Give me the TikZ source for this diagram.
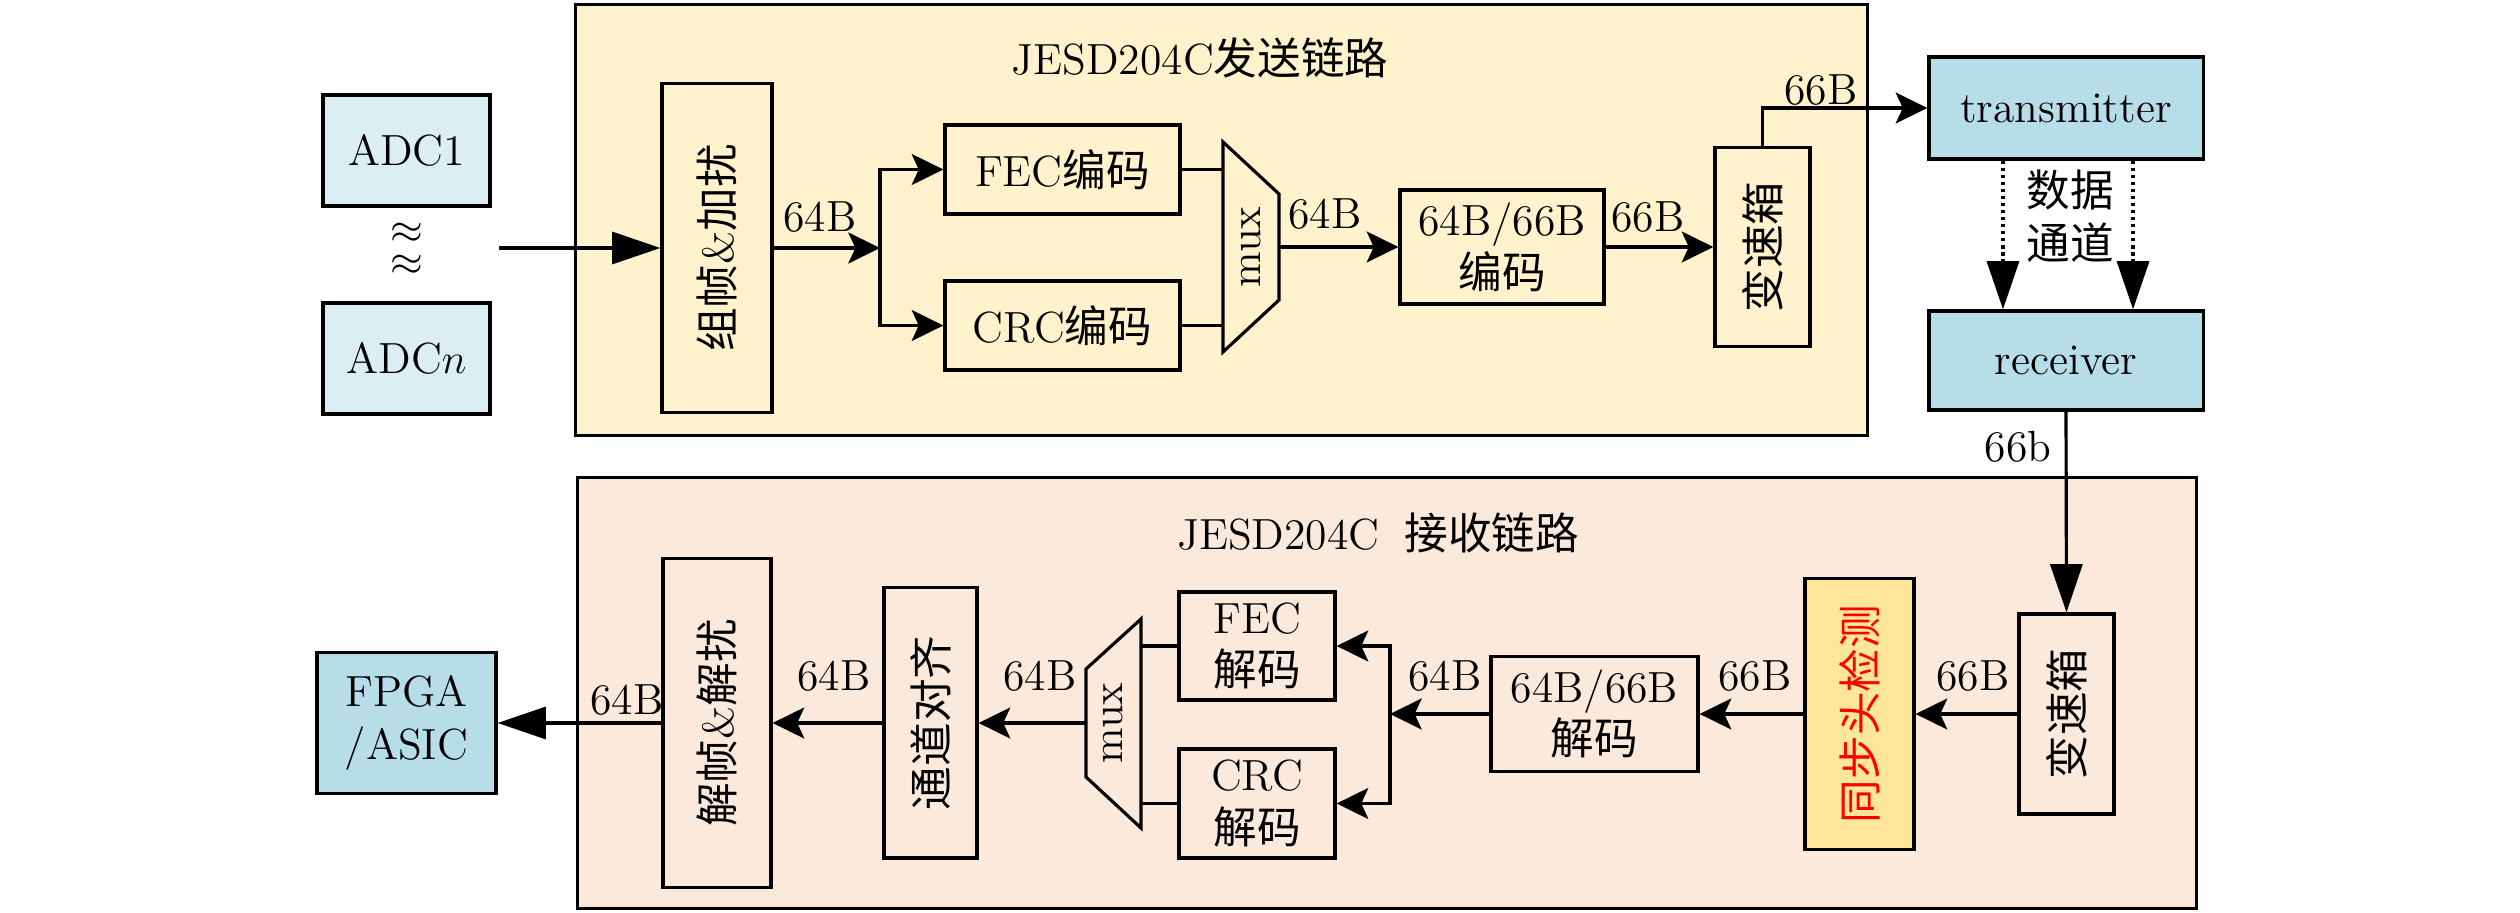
\documentclass[tikz,border=0pt]{standalone}
\usepackage{fontspec}
\newfontfamily\cjk{Noto Sans CJK SC}
\usetikzlibrary{arrows.meta}
\definecolor{adcfill}{HTML}{DAEEF3}
\definecolor{bluefill}{HTML}{B7DDE8}
\definecolor{txbg}{HTML}{FFF2CC}
\definecolor{rxbg}{HTML}{FBE9DB}
\definecolor{syncfill}{HTML}{FFE699}
\begin{document}
\begin{tikzpicture}[x=0.01cm,y=-0.01cm,
  font=\fontsize{12.4}{15}\selectfont,
  box/.style={draw, line width=0.9pt, inner sep=0pt, align=center},
  lbl/.style={inner sep=0pt},
  ln/.style={line width=0.9pt},
  big/.style={ln, -{Triangle[length=13.7pt,width=9.1pt]}},
  small/.style={ln, -{Stealth[length=9pt,width=8.8pt,inset=2pt]}},
  dots/.style={dash pattern=on 1pt off 1pt}]
\useasboundingbox (0,0) rectangle (2520,913);

% containers
\node[box, fill=txbg, minimum width=129.1mm, minimum height=43.0mm] (txc) at (1221.5,220) {};
\node[box, fill=rxbg, minimum width=161.8mm, minimum height=43.0mm] (rxc) at (1387,693) {};
\node[lbl] (txtitle) at (1200,58) {JESD204C{\cjk 发送链路}};
\node[lbl] (rxtitle) at (1378,533) {JESD204C\hspace{2.5mm}{\cjk 接收链路}};

% ADCs
\node[box, fill=adcfill, minimum width=16.7mm, minimum height=11.1mm] (adc1) at (406.5,150.5) {ADC1};
\node[box, fill=adcfill, minimum width=16.7mm, minimum height=11.1mm] (adcn) at (406.5,358.5) {ADC$n$};
\node[lbl, align=center, font=\fontsize{12.4}{9}\selectfont] (ap) at (407,249) {$\approx$\\$\approx$};

% transmit chain
\node[box, minimum width=11.0mm, minimum height=32.8mm,
  label={[rotate=90]center:{\cjk 组帧}\&{\cjk 加扰}}] (frm) at (717,248) {};
\node[box, minimum width=23.5mm, minimum height=8.9mm] (fec) at (1062.5,169.5) {FEC{\cjk 编码}};
\node[box, minimum width=23.5mm, minimum height=8.9mm] (crc) at (1062.5,325.5) {CRC{\cjk 编码}};
\draw[ln] (1223,142) -- (1279,194) -- (1279,300) -- (1223,352) -- cycle;
\node[lbl, rotate=90] (muxt) at (1251,247) {mux};
\node[box, minimum width=20.4mm, minimum height=11.4mm] (enc66) at (1502,247) {64B/66B\\{\cjk 编码}};
\node[box, minimum width=9.5mm, minimum height=19.9mm,
  label={[rotate=90]center:{\cjk 变速箱}}] (gb1) at (1762.5,247) {};

\node[box, fill=bluefill, minimum width=27.4mm, minimum height=10.2mm] (tx) at (2066,108) {transmitter};
\node[box, fill=bluefill, minimum width=27.4mm, minimum height=9.9mm] (rcv) at (2066,360.5) {receiver};
\node[lbl, align=center] (chan) at (2070,216) {{\cjk 数据}\\{\cjk 通道}};

% receive chain
\node[box, minimum width=9.5mm, minimum height=20.0mm,
  label={[rotate=90]center:{\cjk 变速箱}}] (gb2) at (2066.5,714) {};
\node[box, fill=syncfill, minimum width=10.9mm, minimum height=27.1mm,
  label={[rotate=90, text=red]center:{\cjk 同步头检测}}] (sync) at (1859.5,714) {};
\node[box, minimum width=20.7mm, minimum height=11.5mm] (dec66) at (1594.5,714) {64B/66B\\{\cjk 解码}};
\node[box, minimum width=15.6mm, minimum height=10.8mm] (fecd) at (1257,646) {FEC\\{\cjk 解码}};
\node[box, minimum width=15.6mm, minimum height=10.9mm] (crcd) at (1257,803.5) {CRC\\{\cjk 解码}};
\draw[ln] (1141,619) -- (1086,669) -- (1086,777) -- (1141,828) -- cycle;
\node[lbl, rotate=90] (muxr) at (1113.5,723) {mux};
\node[box, minimum width=9.3mm, minimum height=27.0mm,
  label={[rotate=90]center:{\cjk 通道对齐}}] (align) at (930.5,723) {};
\node[box, minimum width=10.8mm, minimum height=32.8mm,
  label={[rotate=90]center:{\cjk 解帧}\&{\cjk 解扰}}] (dfrm) at (717,723) {};
\node[box, fill=bluefill, minimum width=17.9mm, minimum height=14.1mm] (fpga) at (406.5,723) {FPGA\\/ASIC};

% labels
\node[lbl] (l1) at (820,217) {64B};
\node[lbl] (l2) at (1325,214) {64B};
\node[lbl] (l3) at (1648,217) {66B};
\node[lbl] (l4) at (1821,90) {66B};
\node[lbl] (l5) at (2018,447) {66b};
\node[lbl] (l6) at (1973,676) {66B};
\node[lbl] (l7) at (1755,676) {66B};
\node[lbl] (l8) at (1445,676) {64B};
\node[lbl] (l9) at (1040,676) {64B};
\node[lbl] (l10) at (834,676) {64B};
\node[lbl] (l11) at (627,700) {64B};

% coordinates
\coordinate (in0) at (499,248);
\coordinate (br1) at (880,248);
\coordinate (mi1) at (1223,169.5);
\coordinate (mi2) at (1223,325.5);
\coordinate (mo) at (1279,247);
\coordinate (br2) at (1390,714);
\coordinate (rmi1) at (1141,646);
\coordinate (rmi2) at (1141,803.5);
\coordinate (rmo) at (1086,723);

% transmit connectors
\draw[big] (in0) -- (frm.west);
\draw[small] (frm.east) -- (br1);
\draw[small] (br1) |- (fec.west);
\draw[small] (br1) |- (crc.west);
\draw[ln] (fec.east) -- (mi1);
\draw[ln] (crc.east) -- (mi2);
\draw[small] (mo) -- (enc66.west);
\draw[small] (enc66.east) -- (gb1.west);
\draw[small] (gb1.north) |- (tx.west);
\draw[big, dots] ([xshift=-6.3mm]tx.south) -- ([xshift=-6.3mm]rcv.north);
\draw[big, dots] ([xshift=6.7mm]tx.south) -- ([xshift=6.7mm]rcv.north);
\draw[big] (rcv.south) -- (gb2.north);

% receive connectors
\draw[small] (gb2.west) -- (sync.east);
\draw[small] (sync.west) -- (dec66.east);
\draw[small] (dec66.west) -- (br2);
\draw[small] (br2) |- (fecd.east);
\draw[small] (br2) |- (crcd.east);
\draw[ln] (fecd.west) -- (rmi1);
\draw[ln] (crcd.west) -- (rmi2);
\draw[small] (rmo) -- (align.east);
\draw[small] (align.west) -- (dfrm.east);
\draw[big] (dfrm.west) -- (fpga.east);
\end{tikzpicture}
\end{document}
